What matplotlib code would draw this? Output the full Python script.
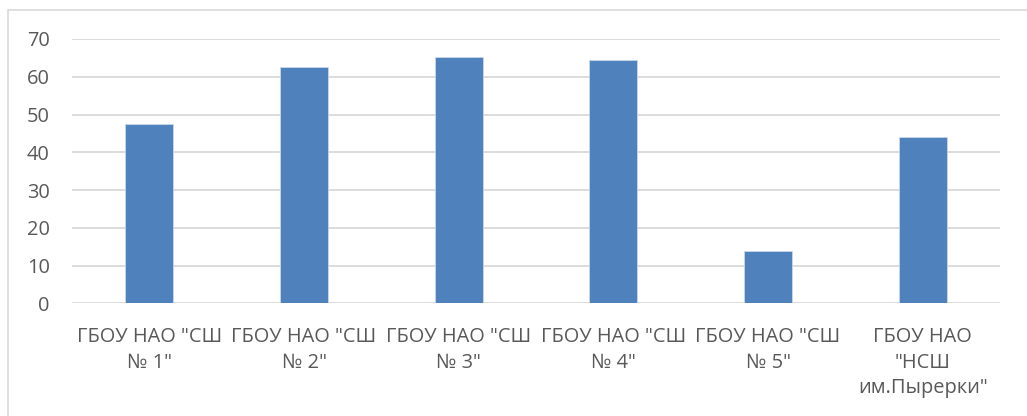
import matplotlib
matplotlib.use("Agg")
import matplotlib.pyplot as plt
from matplotlib.patches import Rectangle

categories = ['ГБОУ НАО "СШ\n№ 1"', 'ГБОУ НАО "СШ\n№ 2"', 'ГБОУ НАО "СШ\n№ 3"',
              'ГБОУ НАО "СШ\n№ 4"', 'ГБОУ НАО "СШ\n№ 5"', 'ГБОУ НАО\n"НСШ\nим.Пырерки"']
values = [47.6, 62.5, 65.2, 64.5, 13.9, 44.1]
yticks = [0, 10, 20, 30, 40, 50, 60, 70]

plt.rcParams['font.family'] = ['Open Sans', 'DejaVu Sans']
W, H = 1027, 416
fig = plt.figure(figsize=(W/100, H/100), dpi=100)
ax = fig.add_axes([72/W, 1-303.3/H, 928/W, (303.3-39)/H])

x = list(range(len(categories)))
ax.bar(x, values, width=0.31, color='#4f81bd', edgecolor='#c9d6ea', linewidth=0.6, zorder=3)
ax.set_xlim(-0.5, len(categories)-0.5)
ax.set_ylim(0, 70)
ax.set_yticks(yticks)
ax.set_yticklabels([str(t) for t in yticks])
ax.set_xticks(x)
ax.set_xticklabels(categories, linespacing=1.38)
ax.grid(axis='y', color='#d9d9d9', linewidth=1.3, zorder=0)
ax.set_axisbelow(True)
for s in ax.spines.values():
    s.set_visible(False)
ax.tick_params(axis='both', length=0, colors='#595959', labelsize=14.4)
ax.tick_params(axis='y', pad=16)
ax.tick_params(axis='x', pad=17)

fig.patches.append(Rectangle((8/W, -0.05), 1.1, 1-9.5/H+0.05, transform=fig.transFigure,
                             fill=False, edgecolor='#d9d9d9', linewidth=1.2))
fig.savefig('out.png', dpi=100)
